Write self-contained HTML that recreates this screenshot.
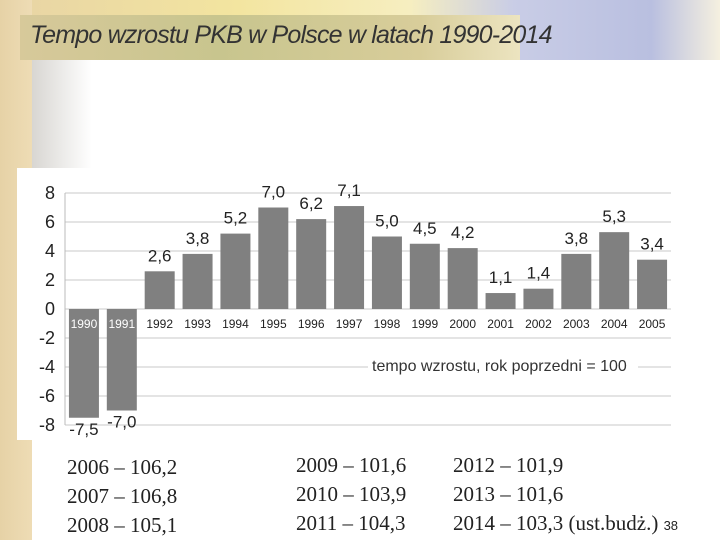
<!DOCTYPE html>
<html><head><meta charset="utf-8"><style>
body{margin:0;width:720px;height:540px;overflow:hidden;position:relative;background:#fff;font-family:"Liberation Sans",sans-serif}
.abs{position:absolute}
</style></head><body>
<div class="abs" style="left:0;top:0;width:32px;height:540px;background:linear-gradient(90deg,#e6d2a6,#eedcb5)"></div>
<div class="abs" style="left:32px;top:0;width:688px;height:60px;background:linear-gradient(90deg,#e9d6a4 0%,#f3e5a0 30%,#f6eec0 55%,#c9cde6 70%,#b9bfe0 90%,#f5f0e0 100%)"></div>
<div class="abs" style="left:20px;top:15px;width:500px;height:45px;background:linear-gradient(90deg,#d7c99a,#c8c58e 40%,#d8cd9a 80%,#ece4c0)"></div>
<div class="abs" style="left:32px;top:60px;width:60px;height:108px;background:linear-gradient(90deg,#d8d6d2,#fff)"></div>
<div class="abs" style="left:30px;top:21px;font-size:25px;font-style:italic;color:#333;letter-spacing:-0.8px">Tempo wzrostu PKB w Polsce w latach 1990-2014</div>
<svg class="abs" style="left:0;top:0" width="720" height="540">
<rect x="17" y="168" width="660" height="272" fill="#fff"/>
<g id="g"></g>
</svg>
<div class="abs" style="left:67px;top:453px;font-family:'Liberation Serif',serif;font-size:21px;line-height:29px;color:#222">2006 – 106,2<br>2007 – 106,8<br>2008 – 105,1</div>
<div class="abs" style="left:296px;top:451px;font-family:'Liberation Serif',serif;font-size:21px;line-height:29px;color:#222">2009 – 101,6<br>2010 – 103,9<br>2011 – 104,3</div>
<div class="abs" style="left:453px;top:451px;font-family:'Liberation Serif',serif;font-size:21px;line-height:29px;color:#222">2012 – 101,9<br>2013 – 101,6<br>2014 – 103,3 (ust.budż.) <span style="font-family:'Liberation Sans';font-size:13px">38</span></div>
<script>
const years=['1990','1991','1992','1993','1994','1995','1996','1997','1998','1999','2000','2001','2002','2003','2004','2005'];
const values=[-7.5,-7.0,2.6,3.8,5.2,7.0,6.2,7.1,5.0,4.5,4.2,1.1,1.4,3.8,5.3,3.4];
const labels=['-7,5','-7,0','2,6','3,8','5,2','7,0','6,2','7,1','5,0','4,5','4,2','1,1','1,4','3,8','5,3','3,4'];
const yTicks=[8,6,4,2,0,-2,-4,-6,-8];
const NS='http://www.w3.org/2000/svg',g=document.getElementById('g');
const x0=65,x1=671,slot=(x1-x0)/years.length;
const y=v=>309-v*14.5;
function mk(t,a,txt){const e=document.createElementNS(NS,t);for(const k in a)e.setAttribute(k,a[k]);if(txt!==undefined)e.textContent=txt;g.appendChild(e);return e;}
yTicks.forEach(t=>{
 const l=mk('line',{x1:x0,x2:x1,y1:y(t),y2:y(t),stroke:'#c8c8c8'});
 
 
 const tx=mk('text',{x:55,y:y(t)+6,'text-anchor':'end','font-size':18,fill:'#222'},String(t));
 
 
});
const ax=mk('line',{x1:x0,x2:x0,y1:y(8),y2:y(-8),stroke:'#bbb'});


const lb=mk('rect',{x:368,y:352,width:270,height:26,fill:'#fff'});


const lt=mk('text',{x:372,y:371,'font-size':16,fill:'#333'},'tempo wzrostu, rok poprzedni = 100');


values.forEach((v,i)=>{
 const cx=x0+slot*(i+0.5),w=30;
 const top=Math.min(y(v),y(0)),h=Math.abs(y(v)-y(0));
 const r=mk('rect',{x:cx-w/2,y:top,width:w,height:h,fill:'#808080'});
 
 
 const neg=v<0;
 const yl=mk('text',{x:cx,y:y(0)+19,'text-anchor':'middle','font-size':12,fill:neg?'#fff':'#222'},years[i]);
 
 
 const vl=mk('text',{x:cx,y:neg?y(v)+17:y(v)-10,'text-anchor':'middle','font-size':17,fill:'#222'},labels[i]);
 
 
});
</script>
</body></html>
